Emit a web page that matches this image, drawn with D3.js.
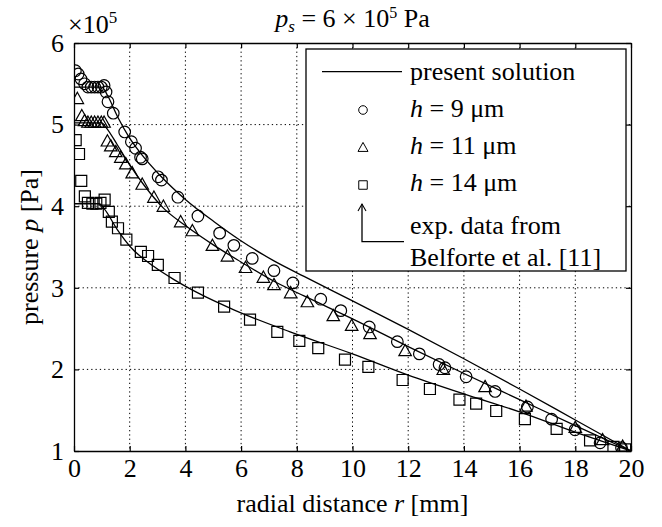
<!DOCTYPE html>
<html><head><meta charset="utf-8">
<script src="https://cdn.jsdelivr.net/npm/d3@7"></script>
<style>
body{margin:0;background:#fff}
svg text{font-family:"Liberation Serif","Times New Roman",Times,serif;fill:#000}
</style>
</head><body>
<svg id="chart" width="662" height="527"></svg>
<script>
// ---- data (pressure in units of 10^5 Pa, radial distance in mm) ----
const xTicks = [0,2,4,6,8,10,12,14,16,18,20];
const yTicks = [1,2,3,4,5,6];

// present solution curves
const line9R  = [0,1.0,1.2,1.56,1.97,2.39,3.11,4.01,5.03,5.98,7.18,8.26,10,12,14,16,18,20];
const line9P  = [5.46,5.46,5.36,5.10,4.85,4.65,4.37,4.08,3.81,3.58,3.33,3.14,2.84,2.49,2.13,1.76,1.38,1.0];
const line11R = [0,1.0,1.14,1.56,2.03,2.51,3.23,4.01,5.03,5.98,7.18,8.26,10,12,14,16,18,20];
const line11P = [5.02,5.02,4.97,4.75,4.49,4.26,3.97,3.76,3.52,3.32,3.08,2.90,2.62,2.28,1.95,1.63,1.31,1.0];
const line14R = [0,0.9,1.08,1.56,2.03,2.87,3.59,4.43,5.74,7.76,10,12,14,16,18,20];
const line14P = [4.03,4.03,3.97,3.71,3.50,3.26,3.10,2.94,2.73,2.46,2.19,1.93,1.70,1.48,1.23,1.0];

// experimental data (Belforte et al.)
const exp9R  = [0.05,0.15,0.25,0.38,0.5,0.62,0.74,0.86,0.98,1.08,1.15,1.22,1.41,1.82,2.06,2.21,2.39,2.45,3.02,3.14,3.73,4.45,5.23,5.74,6.40,7.18,7.86,8.86,9.58,10.60,11.61,12.40,13.11,13.32,14.08,15.12,16.28,17.15,17.99,18.89,19.66];
const exp9P  = [5.66,5.62,5.56,5.50,5.46,5.46,5.46,5.46,5.46,5.48,5.40,5.28,5.14,4.91,4.79,4.71,4.60,4.58,4.36,4.32,4.11,3.88,3.67,3.52,3.36,3.21,3.06,2.86,2.72,2.52,2.34,2.19,2.06,2.02,1.91,1.73,1.54,1.39,1.26,1.10,1.04];
const exp11R = [0.12,0.28,0.38,0.5,0.62,0.74,0.86,0.98,1.08,1.20,1.32,1.50,1.68,1.86,2.09,2.45,2.87,3.21,3.83,4.25,4.97,5.51,6.16,6.80,7.18,7.78,8.38,9.31,9.97,10.63,11.89,13.26,14.76,16.23,18.0,18.98,19.7];
const exp11P = [5.31,5.10,5.04,5.02,5.02,5.02,5.02,5.02,5.02,4.79,4.73,4.66,4.59,4.51,4.40,4.26,4.10,3.99,3.80,3.69,3.51,3.38,3.24,3.12,3.03,2.93,2.82,2.65,2.53,2.43,2.22,1.99,1.78,1.54,1.28,1.13,1.05];
const exp14R = [0.06,0.18,0.26,0.39,0.50,0.66,0.80,0.95,1.10,1.25,1.36,1.58,1.88,2.40,2.66,3.01,3.61,4.45,5.39,6.32,7.30,8.09,8.77,9.73,10.57,11.80,12.78,13.84,14.44,15.16,16.19,17.33,18.53,19.37,19.79];
const exp14P = [4.81,4.64,4.31,4.12,4.04,4.03,4.03,4.04,4.08,3.93,3.81,3.73,3.59,3.44,3.39,3.28,3.12,2.94,2.77,2.61,2.46,2.35,2.26,2.12,2.03,1.87,1.76,1.63,1.58,1.49,1.39,1.27,1.13,1.05,1.02];

const legendLabels = ["present solution","9","11","14","exp. data from","Belforte et al. [11]"];

// ---- drawing ----
const L = 74, R = 631, T = 43, B = 451;
const SERIF = '"Liberation Serif","Times New Roman",Times,serif';
const svg = d3.select("#chart");
const x = d3.scaleLinear().domain([0,20]).range([L,R]);
const y = d3.scaleLinear().domain([1,6]).range([B,T]);
const FS = 26;

svg.append("defs").append("clipPath").attr("id","clip")
  .append("rect").attr("x",L).attr("y",T).attr("width",R-L).attr("height",B-T);

// grid
const grid = svg.append("g").attr("stroke","#000").attr("stroke-width",1).attr("stroke-dasharray","1.3,3");
grid.selectAll(".gx").data(xTicks.slice(1,-1)).join("line")
  .attr("x1",d=>x(d)).attr("x2",d=>x(d)).attr("y1",T).attr("y2",B);
grid.selectAll(".gy").data(yTicks.slice(1,-1)).join("line")
  .attr("y1",d=>y(d)).attr("y2",d=>y(d)).attr("x1",L).attr("x2",R);

// curves
const plot = svg.append("g").attr("clip-path","url(#clip)");
const lineGen = d3.line().x(d=>x(d[0])).y(d=>y(d[1])).curve(d3.curveMonotoneX);
[[line9R,line9P],[line11R,line11P],[line14R,line14P]].forEach(([rr,pp])=>{
  plot.append("path").datum(rr.map((r,i)=>[r,pp[i]]))
    .attr("d",lineGen).attr("fill","none").attr("stroke","#000").attr("stroke-width",1.3);
});

// marker shapes
function tri(s){ const h=s*0.9; return `M0,${-h*0.62}L${s/2},${h*0.38}L${-s/2},${h*0.38}Z`; }
function sq(s){ return `M${-s/2},${-s/2}h${s}v${s}h${-s}Z`; }

const mk = plot.append("g").attr("fill","none").attr("stroke","#000").attr("stroke-width",1.2);
mk.selectAll("circle.e9").data(exp9R.map((r,i)=>[r,exp9P[i]])).join("circle")
  .attr("cx",d=>x(d[0])).attr("cy",d=>y(d[1])).attr("r",5.8);
mk.selectAll("path.e11").data(exp11R.map((r,i)=>[r,exp11P[i]])).join("path")
  .attr("class","e11")
  .attr("transform",d=>`translate(${x(d[0])},${y(d[1])})`).attr("d",tri(12.5));
mk.selectAll("path.e14").data(exp14R.map((r,i)=>[r,exp14P[i]])).join("path")
  .attr("class","e14")
  .attr("transform",d=>`translate(${x(d[0])},${y(d[1])})`).attr("d",sq(11));

// axes
const axB = d3.axisBottom(x).tickValues(xTicks).tickSize(-5).tickSizeOuter(0).tickPadding(8).tickFormat(d3.format("d"));
const axL = d3.axisLeft(y).tickValues(yTicks).tickSize(-5).tickSizeOuter(0).tickPadding(10).tickFormat(d3.format("d"));
const axT = d3.axisTop(x).tickValues(xTicks).tickSize(-5).tickSizeOuter(0).tickFormat("");
const axR = d3.axisRight(y).tickValues(yTicks).tickSize(-5).tickSizeOuter(0).tickFormat("");
function styleAxis(g){
  g.attr("font-family",null).attr("font-size",null);
  g.selectAll("path.domain").attr("stroke","#000").attr("stroke-width",1.3);
  g.selectAll(".tick line").attr("stroke","#000").attr("stroke-width",1.2);
  g.selectAll("text").style("font-family",SERIF).style("font-size",FS+"px").attr("fill","#000");
}
svg.append("g").attr("transform",`translate(0,${B})`).call(axB).call(styleAxis);
svg.append("g").attr("transform",`translate(${L},0)`).call(axL).call(styleAxis);
svg.append("g").attr("transform",`translate(0,${T})`).call(axT).call(styleAxis);
svg.append("g").attr("transform",`translate(${R},0)`).call(axR).call(styleAxis);

// exponent label
const ex = svg.append("text").attr("x",68).attr("y",33).style("font-size",FS+"px");
ex.append("tspan").text("×10");
ex.append("tspan").attr("dy",-10).style("font-size","17px").text("5");

// title
const tt = svg.append("text").attr("x",(L+R)/2).attr("y",27).attr("text-anchor","middle").style("font-size",FS+"px");
tt.append("tspan").attr("font-style","italic").text("p");
tt.append("tspan").attr("font-style","italic").style("font-size","17px").attr("dy",5).text("s");
tt.append("tspan").attr("dy",-5).text(" = 6 × 10");
tt.append("tspan").attr("dy",-9).style("font-size","16px").text("5");
tt.append("tspan").attr("dy",9).text(" Pa");

// axis titles
const xl = svg.append("text").attr("x",(L+R)/2).attr("y",512).attr("text-anchor","middle").style("font-size",FS+"px");
xl.append("tspan").text("radial distance ");
xl.append("tspan").attr("font-style","italic").text("r");
xl.append("tspan").text(" [mm]");

const yl = svg.append("text").attr("transform",`translate(38,${(T+B)/2}) rotate(-90)`).attr("text-anchor","middle").style("font-size",FS+"px");
yl.append("tspan").text("pressure ");
yl.append("tspan").attr("font-style","italic").text("p");
yl.append("tspan").text(" [Pa]");

// legend
const lg = svg.append("g");
lg.append("rect").attr("x",306).attr("y",49).attr("width",320).attr("height",222)
  .attr("fill","#fff").attr("stroke","#000").attr("stroke-width",1.3);
lg.append("line").attr("x1",322).attr("x2",402).attr("y1",71.7).attr("y2",71.7).attr("stroke","#000").attr("stroke-width",1.3);
lg.append("text").attr("x",410).attr("y",79.5).style("font-size",FS+"px").text(legendLabels[0]);
const mx = 363;
lg.append("circle").attr("cx",mx).attr("cy",110).attr("r",4.3).attr("fill","none").attr("stroke","#000").attr("stroke-width",1);
lg.append("path").attr("transform",`translate(${mx},148)`).attr("d",tri(10)).attr("fill","none").attr("stroke","#000").attr("stroke-width",1);
lg.append("path").attr("transform",`translate(${mx},185)`).attr("d",sq(8.5)).attr("fill","none").attr("stroke","#000").attr("stroke-width",1);
[[116.5,legendLabels[1]],[153.5,legendLabels[2]],[190.5,legendLabels[3]]].forEach(([yy,v])=>{
  const t = lg.append("text").attr("x",410).attr("y",yy).style("font-size",FS+"px");
  t.append("tspan").attr("font-style","italic").text("h");
  t.append("tspan").text(` = ${v} μm`);
});
// arrow
lg.append("path").attr("d","M362,204V241.7H404").attr("fill","none").attr("stroke","#000").attr("stroke-width",1.3);
lg.append("path").attr("d","M358,211L362,204L366,211").attr("fill","none").attr("stroke","#000").attr("stroke-width",1.1);
lg.append("text").attr("x",410).attr("y",233.5).style("font-size",FS+"px").text(legendLabels[4]);
lg.append("text").attr("x",410).attr("y",265.5).style("font-size",FS+"px").text(legendLabels[5]);
</script>
</body></html>
